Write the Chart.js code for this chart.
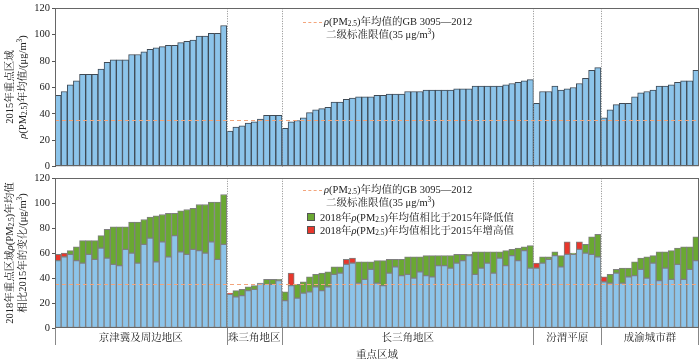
<!DOCTYPE html>
<html>
<head>
<meta charset="utf-8">
<script src="https://cdn.jsdelivr.net/npm/chart.js@4.4.1/dist/chart.umd.min.js"></script>
<style>
body { margin: 0; background: #fff; }
#wrap { position: relative; width: 700px; height: 362px; overflow: hidden;
  font-family: 'Liberation Serif', 'Noto Serif CJK SC', 'Noto Sans CJK SC', serif; font-size: 10.5px; color: #222; }
#top { position: absolute; left: 0; top: 0; }
#bottom { position: absolute; left: 0; top: 170px; }
.ytitle { position: absolute; white-space: nowrap; line-height: 1; transform: translate(-50%, -50%) rotate(-90deg); }
.leg { position: absolute; white-space: nowrap; line-height: 12px; height: 12px; }
sub { font-size: 0.7em; vertical-align: -0.2em; line-height: 0; }
sup { font-size: 0.7em; vertical-align: 0.5em; line-height: 0; }
.dash { position: absolute; width: 19px; height: 0; border-top: 1.3px dashed #f3a57c; }
.sq { position: absolute; width: 6px; height: 6px; border: 1px solid #555; }
</style>
</head>
<body>
<div id="wrap">
  <canvas id="top" width="700" height="175"></canvas>
  <canvas id="bottom" width="700" height="192"></canvas>

  <div class="ytitle" style="left:10px;top:87px">2015年重点区域</div>
  <div class="ytitle" style="left:23px;top:87px"><i>ρ</i>(PM<sub>2.5</sub>)年均值/(μg/m<sup>3</sup>)</div>
  <div class="ytitle" style="left:10px;top:253px">2018年重点区域<i>ρ</i>(PM<sub>2.5</sub>)年均值</div>
  <div class="ytitle" style="left:23px;top:253px">相比2015年的变化/(μg/m<sup>3</sup>)</div>

  <div class="dash" style="left:303px;top:22px"></div>
  <div class="leg" style="left:324px;top:16px"><i>ρ</i>(PM<sub>2.5</sub>)年均值的GB 3095—2012</div>
  <div class="leg" style="left:326px;top:29px">二级标准限值(35 μg/m<sup>3</sup>)</div>

  <div class="dash" style="left:303px;top:190px"></div>
  <div class="leg" style="left:324px;top:184px"><i>ρ</i>(PM<sub>2.5</sub>)年均值的GB 3095—2012</div>
  <div class="leg" style="left:326px;top:197px">二级标准限值(35 μg/m<sup>3</sup>)</div>
  <div class="sq" style="left:307px;top:213px;background:#6aa832"></div>
  <div class="leg" style="left:320px;top:212px">2018年<i>ρ</i>(PM<sub>2.5</sub>)年均值相比于2015年降低值</div>
  <div class="sq" style="left:307px;top:226px;background:#e8372c"></div>
  <div class="leg" style="left:320px;top:225px">2018年<i>ρ</i>(PM<sub>2.5</sub>)年均值相比于2015年增高值</div>

  <div class="leg" style="left:377px;top:349px;transform:translateX(-50%)">重点区域</div>
</div>

<script>
// regions and how many cities each one has
const regions = ['京津冀及周边地区', '珠三角地区', '长三角地区', '汾渭平原', '成渝城市群'];
const regionCounts = [28, 9, 41, 11, 16];
const yTicks = [0, 20, 40, 60, 80, 100, 120];
const standard = 35;

// annual mean PM2.5 per city, 2015 and 2018
const jjj2015 = [54, 57, 62, 65, 70, 70, 70, 74, 79, 81, 81, 81, 85, 85, 87, 89, 90, 91, 92, 92, 94, 95, 96, 99, 99, 101, 101, 107];
const jjj2018 = [59, 60, 59, 54, 52, 59, 55, 64, 56, 51, 50, 63, 60, 52, 67, 72, 53, 69, 57, 74, 61, 59, 63, 62, 60, 69, 55, 67];
const prd2015 = [27, 30, 31, 33, 34, 36, 39, 39, 39];
const prd2018 = [28, 25, 26, 30, 31, 36, 35, 35, 38];
const yrd2015 = [29, 34, 35, 37, 41, 43, 44, 45, 49, 49, 51, 52, 53, 53, 53, 54, 54, 55, 55, 55, 57, 57, 57, 58, 58, 58, 58, 58, 59, 59, 59, 61, 61, 61, 61, 61, 62, 63, 64, 65, 66];
const yrd2018 = [22, 44, 24, 28, 29, 33, 30, 33, 43, 44, 55, 56, 36, 39, 47, 36, 34, 44, 49, 42, 43, 40, 45, 42, 41, 50, 50, 48, 52, 54, 58, 43, 48, 52, 44, 56, 50, 58, 54, 62, 48];
const fwp2015 = [48, 57, 57, 61, 58, 59, 60, 63, 67, 73, 75];
const fwp2018 = [52, 52, 55, 58, 49, 69, 59, 69, 60, 59, 57];
const cy2015 = [37, 43, 47, 48, 48, 53, 56, 57, 58, 61, 61, 62, 64, 65, 65, 73];
const cy2018 = [41, 36, 44, 36, 41, 42, 47, 40, 52, 38, 48, 39, 51, 39, 47, 54];

const pm2015 = [...jjj2015, ...prd2015, ...yrd2015, ...fwp2015, ...cy2015];
const pm2018 = [...jjj2018, ...prd2018, ...yrd2018, ...fwp2018, ...cy2018];
const labels = pm2015.map((v, i) => String(i + 1));

// bottom panel: the lower of the two years in blue, the change on top
const base = pm2018.map((v, i) => Math.min(v, pm2015[i]));
const drop = pm2018.map((v, i) => pm2015[i] > v ? pm2015[i] - v : null);
const rise = pm2018.map((v, i) => v > pm2015[i] ? v - pm2015[i] : null);

const FONT = "'Liberation Serif', 'Noto Serif CJK SC', 'Noto Sans CJK SC', serif";
const BLUE = '#8cc4ea';

const overlay = {
    id: 'overlay',
    afterDatasetsDraw(chart, args, opts) {
        const { ctx, chartArea: a, scales: { x, y } } = chart;
        ctx.save();

        // GB 3095-2012 level-2 limit
        const ys = Math.round(y.getPixelForValue(standard)) + 0.5;
        ctx.strokeStyle = '#f3a57c';
        ctx.lineWidth = 1.2;
        ctx.setLineDash([4, 3]);
        ctx.beginPath();
        ctx.moveTo(a.left, ys);
        ctx.lineTo(a.right, ys);
        ctx.stroke();

        // region boundaries
        const edge = i => i <= 0 ? a.left : i >= labels.length ? a.right
            : (x.getPixelForValue(i - 1) + x.getPixelForValue(i)) / 2;
        const edges = [0];
        regionCounts.forEach(n => edges.push(edges[edges.length - 1] + n));

        ctx.strokeStyle = '#8a8a8a';
        ctx.lineWidth = 1;
        ctx.setLineDash([1, 1.5]);
        edges.slice(1, -1).forEach(b => {
            const px = Math.round(edge(b)) + 0.5;
            ctx.beginPath();
            ctx.moveTo(px, a.top);
            ctx.lineTo(px, a.bottom);
            ctx.stroke();
        });

        // frame
        ctx.setLineDash([]);
        ctx.strokeStyle = '#666';
        ctx.strokeRect(Math.round(a.left) + 0.5, Math.round(a.top) + 0.5, Math.round(a.width) - 1, Math.round(a.height) - 1);

        if (opts.regionLabels) {
            ctx.strokeStyle = '#888';
            edges.forEach(b => {
                const px = Math.round(edge(b)) + (b >= labels.length ? -0.5 : 0.5);
                ctx.beginPath();
                ctx.moveTo(px, a.bottom);
                ctx.lineTo(px, a.bottom + 17);
                ctx.stroke();
            });
            ctx.fillStyle = '#222';
            ctx.font = '10.5px ' + FONT;
            ctx.textAlign = 'center';
            ctx.textBaseline = 'middle';
            regions.forEach((r, k) => {
                const cx = (edge(edges[k]) + edge(edges[k + 1])) / 2;
                ctx.fillText(r, cx, a.bottom + 10);
            });
        }
        ctx.restore();
    }
};

function yScale() {
    return {
        min: 0,
        max: 120,
        afterFit(s) { s.width = 55; },
        afterBuildTicks(s) { s.ticks = yTicks.map(v => ({ value: v })); },
        ticks: { font: { family: FONT, size: 10.5 }, color: '#222', padding: 2 },
        grid: { drawOnChartArea: false, tickLength: 3, color: '#555' },
        border: { color: '#555' }
    };
}

new Chart(document.querySelector('#top').getContext('2d'), {
    type: 'bar',
    data: {
        labels: labels,
        datasets: [{
            data: pm2015,
            backgroundColor: BLUE,
            borderColor: '#3f4a55',
            borderWidth: 1,
            borderSkipped: false,
            barPercentage: 1,
            categoryPercentage: 1
        }]
    },
    options: {
        responsive: false,
        animation: false,
        layout: { padding: { top: 7, right: 1, bottom: 8, left: 0 } },
        plugins: { legend: { display: false }, tooltip: { enabled: false }, overlay: { regionLabels: false } },
        scales: { x: { display: false }, y: yScale() }
    },
    plugins: [overlay]
});

const seg = (data, color) => ({
    data: data,
    backgroundColor: color,
    borderColor: '#7f7f7f',
    borderWidth: 1,
    borderSkipped: false,
    barPercentage: 1,
    categoryPercentage: 1
});

new Chart(document.querySelector('#bottom').getContext('2d'), {
    type: 'bar',
    data: {
        labels: labels,
        datasets: [seg(base, BLUE), seg(drop, '#6aa832'), seg(rise, '#e8372c')]
    },
    options: {
        responsive: false,
        animation: false,
        layout: { padding: { top: 8, right: 1, bottom: 34, left: 0 } },
        plugins: { legend: { display: false }, tooltip: { enabled: false }, overlay: { regionLabels: true } },
        scales: {
            x: { display: false, stacked: true },
            y: Object.assign(yScale(), { stacked: true })
        }
    },
    plugins: [overlay]
});
</script>
</body>
</html>
